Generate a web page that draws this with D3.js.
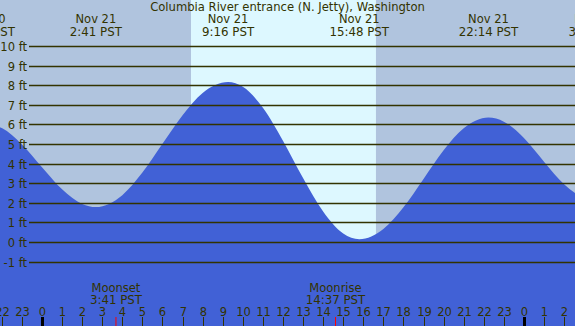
<!DOCTYPE html>
<html>
<head>
<meta charset="utf-8">
<script src="https://cdn.jsdelivr.net/npm/d3@7"></script>
<style>
  html, body { margin: 0; padding: 0; background: #b0c4de; }
  svg { display: block; }
  text { font-family: "DejaVu Sans", sans-serif; fill: #333300; }
</style>
</head>
<body>
<svg id="chart" width="575" height="326"></svg>
<script>
// ---- data ----
const title = "Columbia River entrance (N. Jetty), Washington";

// hourly water level samples, hours relative to midnight Nov 21 (PST)
const sampleHours   = [-3, -2, -1, 0, 1, 2, 3, 4, 5, 6, 7, 8, 9, 10, 11, 12, 13, 14, 15, 16, 17, 18, 19, 20, 21, 22, 23, 24, 25, 26, 27];
const sampleHeights = [6.04, 5.81, 4.98, 3.82, 2.69, 1.94, 1.82, 2.39, 3.54, 5.01, 6.47, 7.60, 8.13, 7.92, 6.85, 5.17, 3.26, 1.55, 0.43, 0.16, 0.66, 1.77, 3.22, 4.68, 5.80, 6.33, 6.14, 5.30, 4.10, 2.95, 2.25];

// high / low tide events
const extremeHours   = [-2.83, 2.683, 9.267, 15.8, 22.233, 27.52];
const extremeHeights = [6.05, 1.78, 8.16, 0.14, 6.35, 2.15];
const extremeDates   = ["Nov 20", "Nov 21", "Nov 21", "Nov 21", "Nov 21", "Nov 22"];
const extremeTimes   = ["21:10 PST", "2:41 PST", "9:16 PST", "15:48 PST", "22:14 PST", "3:31 PST"];

// moon events
const moonNames = ["Moonset", "Moonrise"];
const moonTimes = ["3:41 PST", "14:37 PST"];
const moonHours = [3.683, 14.617];

// daylight
const sunriseHour = 7.42;
const sunsetHour  = 16.63;

// axis ticks
const gridFeet = [10, 9, 8, 7, 6, 5, 4, 3, 2, 1, 0, -1];
const tickHours = d3.range(-2, 27);

// ---- layout ----
const W = 575, H = 326;
const svg = d3.select("#chart");

const x = d3.scaleLinear().domain([-2.0916, 26.5433]).range([0, W]);
const y = d3.scaleLinear().domain([0, 10]).range([242, 46]);

// night background
svg.append("rect").attr("x", 0).attr("y", 0).attr("width", W).attr("height", H).attr("fill", "#b0c4de");
// daylight band
svg.append("rect")
  .attr("x", x(sunriseHour)).attr("y", 0)
  .attr("width", x(sunsetHour) - x(sunriseHour)).attr("height", H)
  .attr("fill", "#ddf8ff");

// tide area
const pts = sampleHours.map((h, i) => [h, sampleHeights[i]])
  .concat(extremeHours.map((h, i) => [h, extremeHeights[i]]))
  .sort((a, b) => a[0] - b[0]);
// drop samples too close to an extreme to keep the curve smooth
const filtered = pts.filter(p => {
  const isExt = extremeHours.includes(p[0]);
  if (isExt) return true;
  return !extremeHours.some(e => Math.abs(e - p[0]) < 0.35);
});

const area = d3.area()
  .x(d => x(d[0]))
  .y0(H + 10)
  .y1(d => y(d[1]))
  .curve(d3.curveMonotoneX);

svg.append("path").datum(filtered).attr("d", area).attr("fill", "#4161d6");

// grid lines
const grid = svg.append("g");
gridFeet.forEach(f => {
  const yy = Math.round(y(f)) + 0.5;
  grid.append("line").attr("x1", 29).attr("x2", W).attr("y1", yy).attr("y2", yy)
    .attr("stroke", "#333300").attr("stroke-width", 1.3);
  grid.append("text").attr("x", 27).attr("y", yy + 4)
    .attr("text-anchor", "end").attr("font-size", 11.5).text(f + " ft");
});

// title
svg.append("text").attr("x", W / 2).attr("y", 11).attr("text-anchor", "middle")
  .attr("font-size", 11.6).text(title);

// extreme labels
extremeHours.forEach((h, i) => {
  svg.append("text").attr("x", x(h)).attr("y", 23).attr("text-anchor", "middle")
    .attr("font-size", 11.5).text(extremeDates[i]);
  svg.append("text").attr("x", x(h)).attr("y", 36).attr("text-anchor", "middle")
    .attr("font-size", 11.8).text(extremeTimes[i]);
});

// moon labels
moonHours.forEach((h, i) => {
  svg.append("text").attr("x", x(h)).attr("y", 292).attr("text-anchor", "middle")
    .attr("font-size", 11.5).text(moonNames[i]);
  svg.append("text").attr("x", x(h)).attr("y", 304).attr("text-anchor", "middle")
    .attr("font-size", 11.8).text(moonTimes[i]);
  svg.append("line").attr("x1", x(h)).attr("x2", x(h)).attr("y1", 317).attr("y2", H)
    .attr("stroke", "#ff0000").attr("stroke-width", 1);
});

// hour axis
const axis = svg.append("g");
tickHours.forEach(h => {
  const xx = Math.round(x(h)) + 0.5;
  const lab = ((h % 24) + 24) % 24;
  const midnight = lab === 0;
  axis.append("line").attr("x1", xx).attr("x2", xx).attr("y1", 317).attr("y2", H)
    .attr("stroke", midnight ? "#000000" : "#333300").attr("stroke-width", midnight ? 3 : 1);
  axis.append("text").attr("x", xx).attr("y", 316).attr("text-anchor", "middle")
    .attr("font-size", 11.5).text(lab);
});
</script>
</body>
</html>
